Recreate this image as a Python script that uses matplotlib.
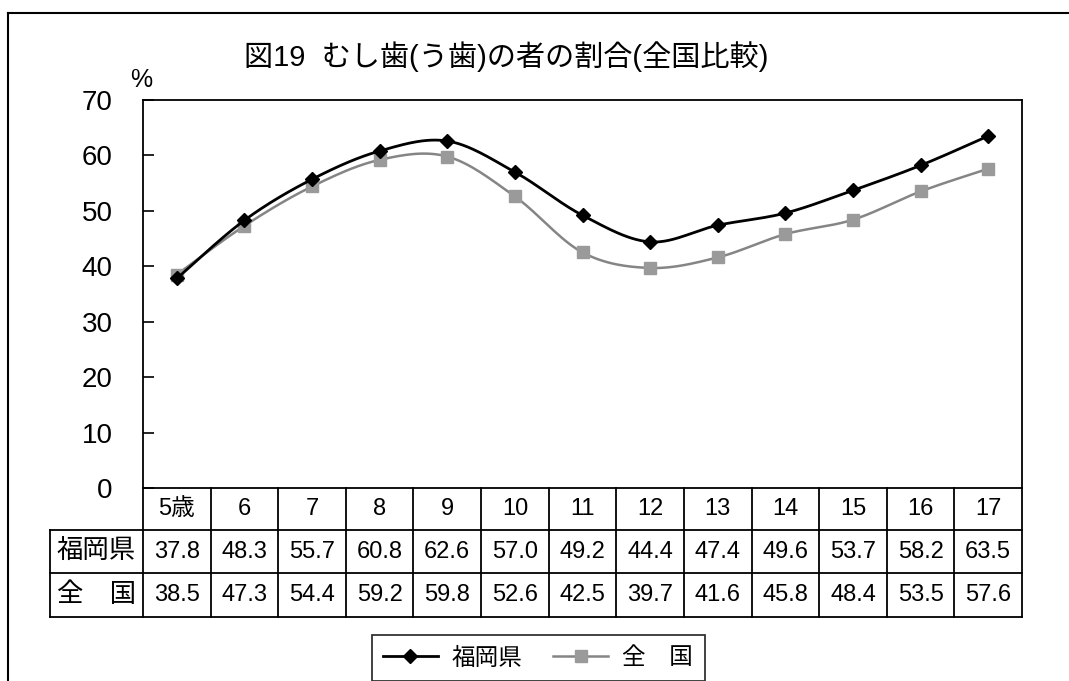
import numpy as np
import matplotlib
matplotlib.use("Agg")
import matplotlib.pyplot as plt
from matplotlib.lines import Line2D

plt.rcParams['font.family'] = ['Liberation Sans', 'Noto Sans CJK JP', 'DejaVu Sans']

# data
title = "図19  むし歯(う歯)の者の割合(全国比較)"
ages = ["5歳", "6", "7", "8", "9", "10", "11", "12", "13", "14", "15", "16", "17"]
fukuoka = [37.8, 48.3, 55.7, 60.8, 62.6, 57.0, 49.2, 44.4, 47.4, 49.6, 53.7, 58.2, 63.5]
national = [38.5, 47.3, 54.4, 59.2, 59.8, 52.6, 42.5, 39.7, 41.6, 45.8, 48.4, 53.5, 57.6]
row_labels = ["福岡県", "全　国"]

W, H = 1069, 681


def fx(px):
    return px / W


def fy(py):
    return 1 - py / H


def smooth(xs, ys, n=30):
    # Bezier smoothing similar to spreadsheet "smoothed line"
    p = np.column_stack([xs, ys]).astype(float)
    p = np.vstack([p[0], p, p[-1]])
    out = []
    for i in range(1, len(p) - 2):
        p0, p1 = p[i], p[i + 1]
        c1 = p0 + (p1 - p[i - 1]) / 6
        c2 = p1 - (p[i + 2] - p0) / 6
        t = np.linspace(0, 1, n)[:, None]
        seg = (1 - t) ** 3 * p0 + 3 * (1 - t) ** 2 * t * c1 + 3 * (1 - t) * t ** 2 * c2 + t ** 3 * p1
        out.append(seg)
    out = np.vstack(out)
    return out[:, 0], out[:, 1]


fig = plt.figure(figsize=(W / 100, H / 100), dpi=100)
left, right, top, bottom = 143, 1022, 100, 488
ax = fig.add_axes([fx(left), fy(bottom), fx(right - left), fy(top) - fy(bottom)])

x = np.arange(len(ages)) + 0.5
sx, sy = smooth(x, fukuoka)
ax.plot(sx, sy, color='black', lw=2.0, zorder=3)
ax.plot(x, fukuoka, 'D', color='black', ms=7, zorder=4)
sx, sy = smooth(x, national)
ax.plot(sx, sy, color='#858585', lw=1.8, zorder=2)
ax.plot(x, national, 's', color='#9a9a9a', ms=9, zorder=2)

ax.set_xlim(0, len(ages))
ax.set_ylim(0, 70)
ax.set_yticks(range(0, 71, 10))
ax.set_xticks([])
ax.tick_params(axis='y', direction='in', length=8, width=1.2, pad=22, labelsize=20)
for s in ax.spines.values():
    s.set_linewidth(1.3)

fig.text(fx(141), fy(80), "%", fontsize=18, ha='center', va='center')
fig.text(fx(506), fy(57), title, fontsize=21, ha='center', va='center',
         family=['Liberation Sans', 'Noto Sans CJK JP'])

# data table below the plot
col_w = (right - left) / len(ages)
rows_y = [488, 530, 573, 617]
lab_left = 50
lw = 1.3
for k in range(len(ages) + 1):
    xp = left + k * col_w
    fig.add_artist(Line2D([fx(xp)] * 2, [fy(rows_y[0]), fy(rows_y[-1])], color='black', lw=lw))
fig.add_artist(Line2D([fx(lab_left)] * 2, [fy(rows_y[1]), fy(rows_y[-1])], color='black', lw=lw))
for yp in rows_y[1:]:
    fig.add_artist(Line2D([fx(lab_left), fx(right)], [fy(yp)] * 2, color='black', lw=lw))

num_font = ['Liberation Sans', 'Noto Sans CJK JP']
for k, a in enumerate(ages):
    cx = left + (k + 0.5) * col_w
    fig.text(fx(cx), fy((rows_y[0] + rows_y[1]) / 2), a, fontsize=17, ha='center', va='center', family=num_font)
    for r, vals in enumerate([fukuoka, national]):
        cy = (rows_y[r + 1] + rows_y[r + 2]) / 2
        fig.text(fx(cx), fy(cy), f"{vals[k]:.1f}", fontsize=17, ha='center', va='center', family=num_font)
for r, lab in enumerate(row_labels):
    cy = (rows_y[r + 1] + rows_y[r + 2]) / 2
    fig.text(fx((lab_left + left) / 2), fy(cy), lab, fontsize=19, ha='center', va='center',
             family=['Noto Sans CJK JP'])

# outer frame (top and left edge visible)
fig.add_artist(Line2D([fx(8), 1], [fy(13)] * 2, color='black', lw=1.5))
fig.add_artist(Line2D([fx(8)] * 2, [0, fy(13)], color='black', lw=1.5))

handles = [Line2D([], [], color='black', lw=2, marker='D', ms=7),
           Line2D([], [], color='#858585', lw=1.8, marker='s', ms=9, mfc='#9a9a9a', mec='#9a9a9a')]
leg = fig.legend(handles, row_labels, loc='center', bbox_to_anchor=(fx(538), fy(658)), ncol=2,
                 frameon=True, fancybox=False, edgecolor='black', handlelength=2.3,
                 columnspacing=1.3, borderpad=0.5, handletextpad=0.6,
                 prop={'family': ['Noto Sans CJK JP'], 'size': 17})
leg.get_frame().set_linewidth(1.3)

fig.savefig("out.png", dpi=100, facecolor='white')
